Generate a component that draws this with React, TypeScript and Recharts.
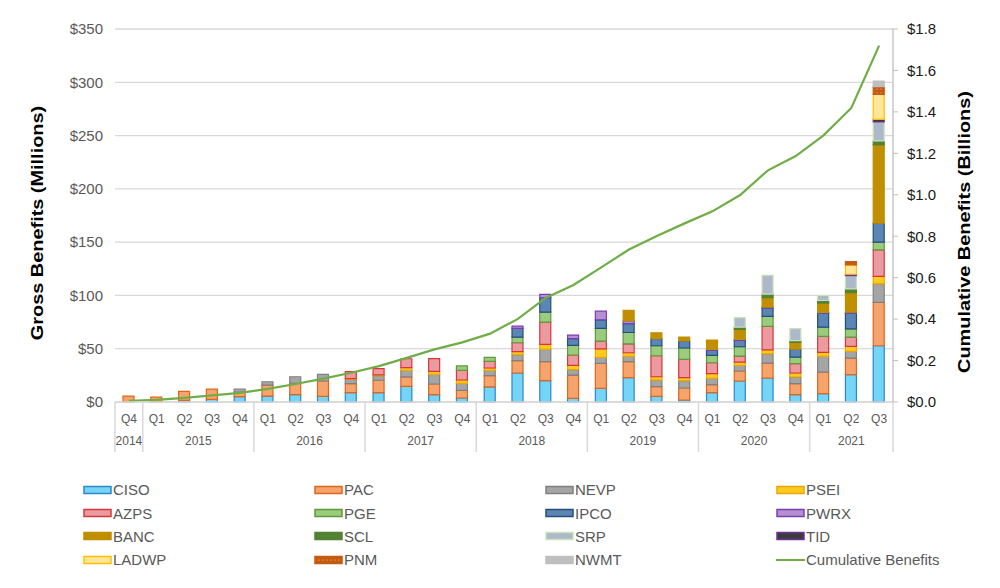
import React from "react";
import {
  ComposedChart, Bar, Line, XAxis, YAxis, CartesianGrid
} from "recharts";

const quarters = [
  "Q4",
  "Q1", "Q2", "Q3", "Q4",
  "Q1", "Q2", "Q3", "Q4",
  "Q1", "Q2", "Q3", "Q4",
  "Q1", "Q2", "Q3", "Q4",
  "Q1", "Q2", "Q3", "Q4",
  "Q1", "Q2", "Q3", "Q4",
  "Q1", "Q2", "Q3"
];
const years = [
  "2014",
  "2015", "2015", "2015", "2015",
  "2016", "2016", "2016", "2016",
  "2017", "2017", "2017", "2017",
  "2018", "2018", "2018", "2018",
  "2019", "2019", "2019", "2019",
  "2020", "2020", "2020", "2020",
  "2021", "2021", "2021"
];

// gross benefits by balancing authority, $M
const ciso = [0, 0, 1.5, 2.5, 5, 5.6, 6.9, 5.3, 8.8, 8.8, 14.7, 6.9, 3.75, 14.1, 27.2, 20, 3.4, 12.8, 22.8, 5.3, 1.9, 8.75, 19.7, 22.5, 6.9, 7.8, 25.6, 52.8];
const pac = [5.5, 4.5, 8.5, 9.5, 4.4, 10.3, 10.6, 14.4, 8.4, 11.6, 8.8, 10, 7.2, 10.6, 11.6, 17.8, 21.9, 23.4, 15, 9.1, 11.25, 7.5, 9.4, 14, 10.3, 20.3, 15.6, 40.6];
const nevp = [0, 0, 0, 0, 2.8, 3.1, 6.2, 6.2, 4.0, 4.1, 6.2, 9.1, 6.6, 5.0, 5.6, 11.6, 5.0, 5.6, 5.0, 6.2, 6.9, 5.9, 5.3, 8.75, 6.25, 14.7, 6.25, 17.5];
const psei = [0, 0, 0, 0, 0, 0, 0, 0, 0.7, 1.0, 2.5, 2.8, 3.1, 2.2, 2.8, 4.7, 4.1, 8.1, 3.4, 3.1, 2.8, 4.4, 3.1, 3.75, 3.75, 3.75, 4.7, 6.9];
const azps = [0, 0, 0, 0, 0, 0, 0, 0, 6.6, 5.9, 8.4, 11.9, 9.1, 6.2, 8.4, 20.9, 9.7, 7.2, 8.4, 19.7, 17.2, 10.3, 5.6, 21.9, 8.75, 15, 8.75, 25];
const pge = [0, 0, 0, 0, 0, 0, 0, 0, 0, 0, 0, 0, 4.1, 3.75, 5.3, 9.4, 9.1, 11.9, 10.6, 9.4, 10.6, 6.9, 8.75, 9.4, 6.25, 8.75, 7.8, 7.2];
const ipco = [0, 0, 0, 0, 0, 0, 0, 0, 0, 0, 0, 0, 0, 0, 8.1, 13.4, 6.2, 8.1, 8.4, 6.6, 6.6, 4.7, 5.9, 7.8, 7.5, 13.1, 14.7, 17.8];
const pwrx = [0, 0, 0, 0, 0, 0, 0, 0, 0, 0, 0, 0, 0, 0, 2.2, 3.1, 3.4, 8.1, 2.5, 0, 0, 1.0, 1.0, 1.0, 0, 0.6, 0.9, 0];
const banc = [0, 0, 0, 0, 0, 0, 0, 0, 0, 0, 0, 0, 0, 0, 0, 0, 0, 0, 10, 5.6, 3.75, 8.75, 9.4, 8.75, 6.25, 8.75, 18.4, 73.4];
const scl = [0, 0, 0, 0, 0, 0, 0, 0, 0, 0, 0, 0, 0, 0, 0, 0, 0, 0, 0, 0, 0, 0, 2.2, 3.4, 1.6, 2.5, 3.4, 3.75];
const srp = [0, 0, 0, 0, 0, 0, 0, 0, 0, 0, 0, 0, 0, 0, 0, 0, 0, 0, 0, 0, 0, 0, 8.75, 17.5, 11.25, 4.7, 12.5, 17.8];
const tid = [0, 0, 0, 0, 0, 0, 0, 0, 0, 0, 0, 0, 0, 0, 0, 0, 0, 0, 0, 0, 0, 0, 0, 0, 0, 0, 1.25, 2.5];
const ladwp = [0, 0, 0, 0, 0, 0, 0, 0, 0, 0, 0, 0, 0, 0, 0, 0, 0, 0, 0, 0, 0, 0, 0, 0, 0, 0, 8.75, 23.4];
const pnm = [0, 0, 0, 0, 0, 0, 0, 0, 0, 0, 0, 0, 0, 0, 0, 0, 0, 0, 0, 0, 0, 0, 0, 0, 0, 0, 3.1, 7.2];
const nwmt = [0, 0, 0, 0, 0, 0, 0, 0, 0, 0, 0, 0, 0, 0, 0, 0, 0, 0, 0, 0, 0, 0, 0, 0, 0, 0, 0, 5.3];

// cumulative benefits, $B
const cumulative = [0.006, 0.010, 0.020, 0.032, 0.044, 0.063, 0.087, 0.113, 0.141, 0.173, 0.213, 0.254, 0.288, 0.330, 0.401, 0.502, 0.565, 0.650, 0.736, 0.801, 0.862, 0.920, 0.999, 1.118, 1.187, 1.287, 1.419, 1.720];

const leftTicks = [0, 50, 100, 150, 200, 250, 300, 350];
const rightTicks = [0, 0.2, 0.4, 0.6, 0.8, 1.0, 1.2, 1.4, 1.6, 1.8];

const series: { name: string; values: number[] }[] = [
  { name: "CISO", values: ciso },
  { name: "PAC", values: pac },
  { name: "NEVP", values: nevp },
  { name: "PSEI", values: psei },
  { name: "AZPS", values: azps },
  { name: "PGE", values: pge },
  { name: "IPCO", values: ipco },
  { name: "PWRX", values: pwrx },
  { name: "BANC", values: banc },
  { name: "SCL", values: scl },
  { name: "SRP", values: srp },
  { name: "TID", values: tid },
  { name: "LADWP", values: ladwp },
  { name: "PNM", values: pnm },
  { name: "NWMT", values: nwmt },
];

const colors: Record<string, { fill: string; stroke: string }> = {
  CISO: { fill: "#75d5f7", stroke: "#2e86c8" },
  PAC: { fill: "#f4a46c", stroke: "#e0661c" },
  NEVP: { fill: "#a5a5a5", stroke: "#808080" },
  PSEI: { fill: "#ffc91f", stroke: "#e8a800" },
  AZPS: { fill: "#eb9b9f", stroke: "#d9363b" },
  PGE: { fill: "#9bcb7c", stroke: "#5e9a3c" },
  IPCO: { fill: "#5a86b4", stroke: "#264d7e" },
  PWRX: { fill: "#b490d2", stroke: "#7a3fae" },
  BANC: { fill: "#bf8f00", stroke: "#bf8f00" },
  SCL: { fill: "#548235", stroke: "#548235" },
  SRP: { fill: "#adb9ca", stroke: "#c9e3b8" },
  TID: { fill: "#3b3b3b", stroke: "#7030a0" },
  LADWP: { fill: "#ffe699", stroke: "#ffc000" },
  PNM: { fill: "url(#pnmDots)", stroke: "#c55a11" },
  NWMT: { fill: "#bfbfbf", stroke: "#bfbfbf" },
};
const LINE_COLOR = "#70ad47";

const data = quarters.map((q, i) => {
  const row: Record<string, any> = { q, yr: years[i], cum: cumulative[i] };
  series.forEach((s) => { row[s.name] = s.values[i]; });
  return row;
});

const PLOT_LEFT = 115;
const PLOT_RIGHT = 893;
const PLOT_BOTTOM = 402;
const BW = (PLOT_RIGHT - PLOT_LEFT) / quarters.length;
const FONT = "'Liberation Sans', Arial, sans-serif";

const YearTick = (props: any) => {
  const { x } = props;
  const i = props.index ?? props.payload?.index ?? 0;
  const yr = years[i];
  const first = i === 0 || years[i - 1] !== yr;
  const last = i === years.length - 1;
  const n = years.filter((y) => y === yr).length;
  return (
    <g>
      {first && (
        <line x1={x - BW / 2} x2={x - BW / 2} y1={PLOT_BOTTOM} y2={452} stroke="#d9d9d9" strokeWidth={1.5} />
      )}
      {last && (
        <line x1={x + BW / 2} x2={x + BW / 2} y1={PLOT_BOTTOM} y2={452} stroke="#d9d9d9" strokeWidth={1.5} />
      )}
      {first && (
        <text x={x + ((n - 1) / 2) * BW} y={445} textAnchor="middle" fontSize={12} fill="#595959" fontFamily={FONT}>
          {yr}
        </text>
      )}
    </g>
  );
};

const Swatch = ({ name }: { name: string }) => {
  if (name === "line") {
    return (
      <svg width={29} height={10} style={{ marginRight: 1 }}>
        <line x1={0} x2={29} y1={5} y2={5} stroke={LINE_COLOR} strokeWidth={2} />
      </svg>
    );
  }
  const c = colors[name];
  return (
    <svg width={29} height={10} style={{ marginRight: 1 }}>
      <rect x={1} y={1.5} width={27} height={7} fill={c.fill} stroke={c.stroke} strokeWidth={1.5} />
    </svg>
  );
};

const legendItems = [...series.map((s) => s.name), "Cumulative Benefits"];

const titleStyle = (left: number, top: number): React.CSSProperties => ({
  position: "absolute", left, top,
  transform: "translate(-50%, -50%) rotate(-90deg) scaleX(1.17)",
  whiteSpace: "nowrap", fontWeight: "bold", fontSize: 17, color: "#000",
});

const App = () => {
  return (
    <div style={{ position: "absolute", left: 0, top: 0, width: 1000, height: 588, background: "#fff", fontFamily: FONT }}>
      <svg width={0} height={0} style={{ position: "absolute" }}>
        <defs>
          <pattern id="pnmDots" width={4} height={4} patternUnits="userSpaceOnUse">
            <rect width={4} height={4} fill="#c55a11" />
            <circle cx={1} cy={1} r={0.6} fill="#f8cbad" />
          </pattern>
        </defs>
      </svg>
      <ComposedChart
        width={1000}
        height={460}
        data={data}
        margin={{ top: 29, right: 0, left: 0, bottom: 0 }}
        barSize={11}
      >
        <CartesianGrid yAxisId="left" xAxisId="q" vertical={false} stroke="#d9d9d9" strokeWidth={1.3} />
        <XAxis
          xAxisId="q"
          dataKey="q"
          interval={0}
          height={25}
          tickLine={false}
          axisLine={{ stroke: "#d9d9d9", strokeWidth: 1.5 }}
          tickMargin={6}
          tick={{ fontSize: 12, fill: "#595959", fontFamily: FONT }}
        />
        <XAxis
          xAxisId="y"
          dataKey="yr"
          interval={0}
          height={33}
          tickLine={false}
          axisLine={false}
          tick={<YearTick />}
        />
        <YAxis
          yAxisId="left"
          width={PLOT_LEFT}
          domain={[0, 350]}
          ticks={leftTicks}
          tickFormatter={(v: number) => `$${v}`}
          axisLine={false}
          tickLine={false}
          tickMargin={6}
          tick={{ fontSize: 15, fill: "#595959", fontFamily: FONT }}
        />
        <YAxis
          yAxisId="right"
          orientation="right"
          width={1000 - PLOT_RIGHT}
          domain={[0, 1.8]}
          ticks={rightTicks}
          tickFormatter={(v: number) => `$${v.toFixed(1)}`}
          axisLine={{ stroke: "#bfbfbf", strokeWidth: 1.3 }}
          tickLine={{ stroke: "#bfbfbf" }}
          tickSize={5}
          tickMargin={9}
          tick={{ fontSize: 15, fill: "#1a1a1a", fontFamily: FONT }}
        />
        {series.map((s) => (
          <Bar
            key={s.name}
            dataKey={s.name}
            stackId="a"
            xAxisId="q"
            yAxisId="left"
            fill={colors[s.name].fill}
            stroke={colors[s.name].stroke}
            strokeWidth={1.2}
            isAnimationActive={false}
          />
        ))}
        <Line
          dataKey="cum"
          xAxisId="q"
          yAxisId="right"
          type="linear"
          stroke={LINE_COLOR}
          strokeWidth={2.2}
          dot={false}
          isAnimationActive={false}
        />
      </ComposedChart>

      <div style={titleStyle(38, 223)}>Gross Benefits (Millions)</div>
      <div style={titleStyle(965, 232)}>Cumulative Benefits (Billions)</div>

      <div
        style={{
          position: "absolute", left: 83, top: 478, width: 920,
          display: "grid", gridTemplateColumns: "231px 231px 231px 231px", gridAutoRows: "23.4px",
        }}
      >
        {legendItems.map((name) => (
          <div key={name} style={{ display: "flex", alignItems: "center", fontSize: 15, color: "#595959" }}>
            <Swatch name={name === "Cumulative Benefits" ? "line" : name} />
            <span>{name}</span>
          </div>
        ))}
      </div>
    </div>
  );
};

export default App;
